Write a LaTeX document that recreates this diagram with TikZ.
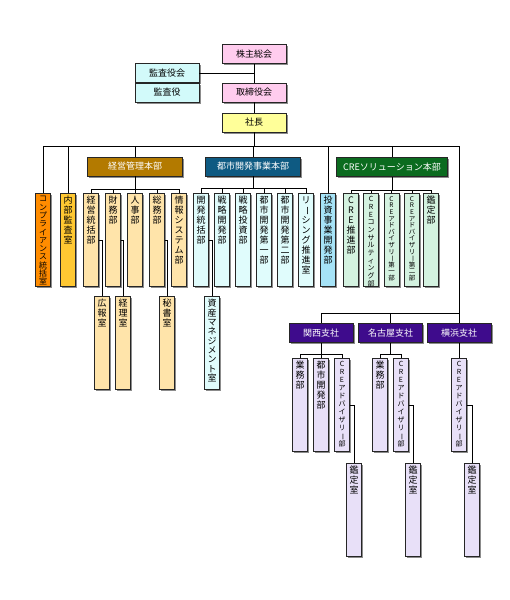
\documentclass[tikz,border=0pt]{standalone}
\usepackage{fontspec}
\setmainfont{Noto Sans CJK JP}
\usepackage{xcolor}
\usepackage{graphicx}
\usepackage{tikz}
\usetikzlibrary{positioning,shadows}

\definecolor{pinkbg}{HTML}{FFCCEE}
\definecolor{cyanbg}{HTML}{D2FAFA}
\definecolor{yellowbg}{HTML}{FFFF99}
\definecolor{keieibg}{HTML}{B37A00}
\definecolor{toshibg}{HTML}{0E5A82}
\definecolor{crebg}{HTML}{0B6B1F}
\definecolor{branchbg}{HTML}{3E0B8C}
\definecolor{kcolbg}{HTML}{FFE4AA}
\definecolor{compbg}{HTML}{FF8C00}
\definecolor{naibubg}{HTML}{FFC832}
\definecolor{tcolbg}{HTML}{E0FCFC}
\definecolor{toushibg}{HTML}{A6E3F7}
\definecolor{ccolbg}{HTML}{D4F2E0}
\definecolor{bcolbg}{HTML}{E8E0F8}

% vertical (tate) text, one character per line
\ExplSyntaxOn
\NewDocumentCommand \tate { O{10pt} m }
  {
    \vbox_to_ht:nn {93pt}
      {
        \skip_vertical:n {3pt}
        \baselineskip=#1 \lineskiplimit=-20pt \lineskip=0pt
        \tl_map_inline:nn {#2}
          {
            \hbox_to_wd:nn {9pt}
              {
                \hss
                \str_if_eq:nnTF {##1} {ー}
                  { \rotatebox[origin=c]{-90}{ー} }
                  { ##1 }
                \hss
              }
          }
        \vss
      }
  }
\ExplSyntaxOff

\begin{document}
\begin{tikzpicture}
      [ x=1pt, y=-1pt, line width=0.8pt,
        box/.style={draw=black!85, inner sep=0pt, font=\fontsize{9}{10}\selectfont,
          drop shadow={shadow xshift=1.5pt, shadow yshift=-1.5pt, fill=black!45, opacity=1}},
        headbox/.style={box, minimum width=64pt, minimum height=19pt},
        hqbox/.style={box, text=white, minimum height=19pt},
        colbox/.style={box, anchor=north, minimum width=15pt},
        smalltext/.style={font=\fontsize{7}{8}\selectfont},
        drop/.style={to path={-| (\tikztotarget)}}
      ]
      \useasboundingbox (0,0) rectangle (510,600);

      % top
      \node[headbox, fill=pinkbg]   (kabu)        at (254,54)    {株主総会};
      \node[headbox, fill=pinkbg]   (torishimari) at (254,92.5)  {取締役会};
      \node[headbox, fill=cyanbg]   (kansakai)    at (167,73)    {監査役会};
      \node[headbox, fill=cyanbg]   (kansa)       at (167,92.5)  {監査役};
      \node[headbox, fill=yellowbg] (shacho)      at (254,122.5) {社長};

      % headquarters
      \node[hqbox, fill=keieibg, minimum width=95pt]  (keiei) at (135,166.5) {経営管理本部};
      \node[hqbox, fill=toshibg, minimum width=95pt]  (toshi) at (253,166.5) {都市開発事業本部};
      \node[hqbox, fill=crebg,   minimum width=111pt] (cre)   at (392,167)   {CREソリューション本部};

      \node[colbox, fill=compbg, font=\fontsize{8}{8}\selectfont] (comp) at (43,193) {\tate[8.3pt]{コンプライアンス統括室}};
      \node[colbox, fill=naibubg]  (naibu)  at (68,193)  {\tate{内部監査室}};
      \node[colbox, fill=toushibg] (toushi) at (328,193) {\tate{投資事業開発部}};

      % keiei
      \node[colbox, fill=kcolbg] (kk1) at (91,193)  {\tate{経営統括部}};
      \node[colbox, fill=kcolbg] (kk2) at (113,193) {\tate{財務部}};
      \node[colbox, fill=kcolbg] (kk3) at (135,193) {\tate{人事部}};
      \node[colbox, fill=kcolbg] (kk4) at (157,193) {\tate{総務部}};
      \node[colbox, fill=kcolbg] (kk5) at (179,193) {\tate{情報システム部}};
      \node[colbox, fill=kcolbg] (kouhou) at (102,296) {\tate{広報室}};
      \node[colbox, fill=kcolbg] (keiri)  at (123,296) {\tate{経理室}};
      \node[colbox, fill=kcolbg] (hisho)  at (167,296) {\tate{秘書室}};

      % toshi
      \node[colbox, fill=tcolbg] (tk1) at (201,193) {\tate{開発統括部}};
      \node[colbox, fill=tcolbg] (tk2) at (222,193) {\tate{戦略開発部}};
      \node[colbox, fill=tcolbg] (tk3) at (243,193) {\tate{戦略投資部}};
      \node[colbox, fill=tcolbg] (tk4) at (264,193) {\tate{都市開発第一部}};
      \node[colbox, fill=tcolbg] (tk5) at (285,193) {\tate{都市開発第二部}};
      \node[colbox, fill=tcolbg] (tk6) at (306,193) {\tate{リーシング推進室}};
      \node[colbox, fill=tcolbg] (shisan) at (212,296) {\tate[9.3pt]{資産マネジメント室}};

      % cre
      \node[colbox, fill=ccolbg] (ck1) at (351,193)   {\tate{CRE推進部}};
      \node[colbox, fill=ccolbg, smalltext] (ck2) at (371,193)   {\tate[7.7pt]{CREコンサルティング部}};
      \node[colbox, fill=ccolbg, font=\fontsize{6.5}{7}\selectfont] (ck3) at (391.5,193) {\tate[6.6pt]{CREアドバイザリー第一部}};
      \node[colbox, fill=ccolbg, font=\fontsize{6.5}{7}\selectfont] (ck4) at (412,193)   {\tate[6.6pt]{CREアドバイザリー第二部}};
      \node[colbox, fill=ccolbg] (ck5) at (431,193)   {\tate{鑑定部}};

      % branches
      \node[headbox, fill=branchbg, text=white] (kansai)   at (321,333)   {関西支社};
      \node[headbox, fill=branchbg, text=white] (nagoya)   at (390.5,333) {名古屋支社};
      \node[headbox, fill=branchbg, text=white] (yokohama) at (459,333)   {横浜支社};

      \node[colbox, fill=bcolbg] (ka1) at (300,358) {\tate{業務部}};
      \node[colbox, fill=bcolbg] (ka2) at (321,358) {\tate{都市開発部}};
      \node[colbox, fill=bcolbg, smalltext] (ka3) at (342,358) {\tate[8pt]{CREアドバイザリー部}};
      \node[colbox, fill=bcolbg] (na1) at (380,358) {\tate{業務部}};
      \node[colbox, fill=bcolbg, smalltext] (na2) at (401,358) {\tate[8pt]{CREアドバイザリー部}};
      \node[colbox, fill=bcolbg, smalltext] (yo1) at (459,358) {\tate[8pt]{CREアドバイザリー部}};
      \node[colbox, fill=bcolbg] (kantei1) at (354,463) {\tate{鑑定室}};
      \node[colbox, fill=bcolbg] (kantei2) at (413,463) {\tate{鑑定室}};
      \node[colbox, fill=bcolbg] (kantei3) at (472,463) {\tate{鑑定室}};

      \coordinate (bus)   at (254,146);
      \coordinate (sbus)  at (459,313);
      \coordinate (kbus)  at (135,189);
      \coordinate (tbus)  at (253,188.5);
      \coordinate (cbus)  at (392,190);
      \coordinate (kabus) at (321,354);
      \coordinate (nbus)  at (390.5,354);

      \path (kabu)          edge (torishimari)
            (torishimari)   edge (shacho)
            (kansakai.east) edge (kansakai.east -| kabu.south)
            (shacho)        edge (bus);

      \path (bus) edge[drop] (comp.north)
                  edge[drop] (naibu.north)
                  edge[drop] (keiei.north)
                  edge[drop] (toshi.north)
                  edge[drop] (toushi.north)
                  edge[drop] (cre.north)
                  edge[drop] (sbus);

      \path (keiei) edge (kbus)
            (kbus)  edge[drop] (kk1.north) edge[drop] (kk2.north) edge[drop] (kk3.north)
                    edge[drop] (kk4.north) edge[drop] (kk5.north)
            (kk1.east) edge[drop] (kouhou.north)
            (kk2.east) edge[drop] (keiri.north)
            (kk4.east) edge[drop] (hisho.north);

      \path (toshi) edge (tbus)
            (tbus)  edge[drop] (tk1.north) edge[drop] (tk2.north) edge[drop] (tk3.north)
                    edge[drop] (tk4.north) edge[drop] (tk5.north) edge[drop] (tk6.north)
            (tk1.east) edge[drop] (shisan.north);

      \path (cre)  edge (cbus)
            (cbus) edge[drop] (ck1.north) edge[drop] (ck2.north) edge[drop] (ck3.north)
                   edge[drop] (ck4.north) edge[drop] (ck5.north);

      \path (sbus) edge[drop] (kansai.north)
                   edge[drop] (nagoya.north)
                   edge       (yokohama.north);

      \path (kansai) edge (kabus)
            (kabus)  edge[drop] (ka1.north) edge[drop] (ka2.north) edge[drop] (ka3.north)
            (ka3.east) edge[drop] (kantei1.north)
            (nagoya) edge (nbus)
            (nbus)   edge[drop] (na1.north) edge[drop] (na2.north)
            (na2.east) edge[drop] (kantei2.north)
            (yokohama) edge (yo1)
            (yo1.east) edge[drop] (kantei3.north);
\end{tikzpicture}
\end{document}
